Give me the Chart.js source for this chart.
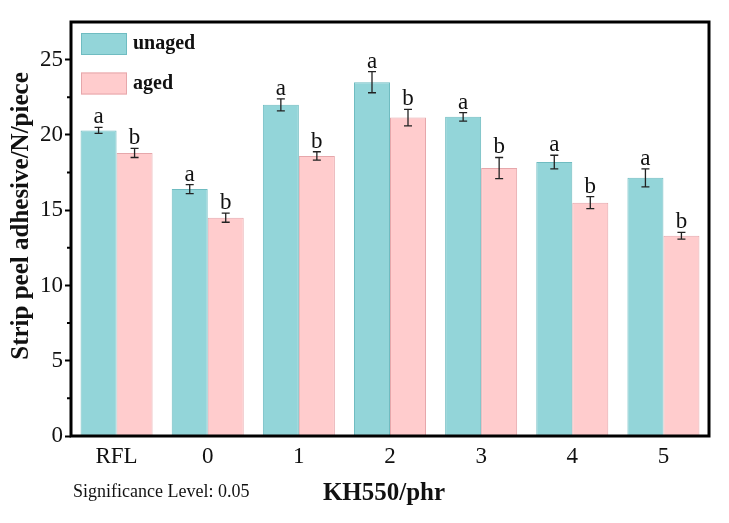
<!DOCTYPE html>
<html>
<head>
<meta charset="utf-8">
<script src="https://cdn.jsdelivr.net/npm/chart.js@4"></script>
<style>
  html, body { margin: 0; padding: 0; background: #fff; }
  #wrap { width: 729px; height: 523px; }
</style>
</head>
<body>
<div id="wrap"><canvas id="peelChart" width="729" height="523"></canvas></div>
<script>
// data
const categories = ['RFL', '0', '1', '2', '3', '4', '5'];
const unaged = [20.3, 16.4, 22.0, 23.5, 21.2, 18.2, 17.15];
const unagedErr = [0.2, 0.3, 0.4, 0.7, 0.28, 0.45, 0.6];
const aged = [18.8, 14.5, 18.6, 21.15, 17.8, 15.5, 13.3];
const agedErr = [0.3, 0.3, 0.28, 0.55, 0.7, 0.4, 0.22];
const unagedLetters = ['a', 'a', 'a', 'a', 'a', 'a', 'a'];
const agedLetters = ['b', 'b', 'b', 'b', 'b', 'b', 'b'];
const yTicks = [0, 5, 10, 15, 20, 25];
const yMinorTicks = [2.5, 7.5, 12.5, 17.5, 22.5];

const SERIF = '"Liberation Serif", "Times New Roman", serif';
const errs = [unagedErr, agedErr];
const letters = [unagedLetters, agedLetters];

const decorPlugin = {
    id: 'decor',
    afterDatasetsDraw(chart) {
        const ctx = chart.ctx;
        const y = chart.scales.y;
        ctx.save();
        // error bars + significance letters
        chart.data.datasets.forEach((ds, di) => {
            const meta = chart.getDatasetMeta(di);
            meta.data.forEach((bar, i) => {
                const v = ds.data[i], e = errs[di][i];
                const x = bar.x;
                const yt = y.getPixelForValue(v + e), yb = y.getPixelForValue(v - e);
                ctx.strokeStyle = '#222';
                ctx.lineWidth = 1.3;
                ctx.beginPath();
                ctx.moveTo(x, yt); ctx.lineTo(x, yb);
                ctx.moveTo(x - 4, yt); ctx.lineTo(x + 4, yt);
                ctx.moveTo(x - 4, yb); ctx.lineTo(x + 4, yb);
                ctx.stroke();
                ctx.fillStyle = '#111';
                ctx.font = '23px ' + SERIF;
                ctx.textAlign = 'center';
                ctx.textBaseline = 'alphabetic';
                ctx.fillText(letters[di][i], x, yt - 4);
            });
        });
        ctx.restore();
    },
    afterDraw(chart) {
        const ctx = chart.ctx;
        const a = chart.chartArea;
        const y = chart.scales.y;
        ctx.save();
        // frame
        ctx.strokeStyle = '#000';
        ctx.lineWidth = 3;
        ctx.strokeRect(a.left, a.top, a.right - a.left, a.bottom - a.top);
        // minor ticks
        ctx.lineWidth = 2;
        ctx.beginPath();
        yMinorTicks.forEach(t => {
            const py = y.getPixelForValue(t);
            ctx.moveTo(a.left - 4, py); ctx.lineTo(a.left, py);
        });
        ctx.stroke();
        // legend
        const items = chart.data.datasets;
        items.forEach((ds, i) => {
            const top = a.top + 11 + i * 39.5;
            ctx.fillStyle = ds.backgroundColor;
            ctx.fillRect(a.left + 10, top, 46, 22);
            ctx.strokeStyle = ds.borderColor;
            ctx.lineWidth = 1;
            ctx.strokeRect(a.left + 10.5, top + 0.5, 45, 21);
            ctx.fillStyle = '#111';
            ctx.font = 'bold 20px ' + SERIF;
            ctx.textAlign = 'left';
            ctx.textBaseline = 'middle';
            ctx.fillText(ds.label, a.left + 62, top + 11);
        });
        // axis titles
        ctx.fillStyle = '#111';
        ctx.font = 'bold 25px ' + SERIF;
        ctx.textAlign = 'center';
        ctx.textBaseline = 'middle';
        ctx.fillText('KH550/phr', 384, 494);
        ctx.save();
        ctx.translate(22, 216);
        ctx.rotate(-Math.PI / 2);
        ctx.fillText('Strip peel adhesive/N/piece', 0, 0);
        ctx.restore();
        // note
        ctx.font = '18px ' + SERIF;
        ctx.textAlign = 'left';
        ctx.fillText('Significance Level: 0.05', 73, 492);
        ctx.restore();
    }
};

const peelChart = new Chart(document.getElementById('peelChart'), {
    type: 'bar',
    data: {
        labels: categories,
        datasets: [
            { label: 'unaged', data: unaged, backgroundColor: '#93d5d9', borderColor: '#6fbcc1', borderWidth: 1 },
            { label: 'aged', data: aged, backgroundColor: '#ffcccd', borderColor: '#e6a7ab', borderWidth: 1 }
        ]
    },
    options: {
        responsive: false,
        animation: false,
        devicePixelRatio: 1,
        layout: { padding: { top: 22, right: 20, left: 0, bottom: 0 } },
        categoryPercentage: 0.79,
        barPercentage: 1.0,
        plugins: { legend: { display: false }, tooltip: { enabled: false } },
        scales: {
            x: {
                grid: { display: false, drawTicks: false },
                border: { display: false },
                ticks: { color: '#111', font: { family: SERIF, size: 23 }, padding: 7 },
                afterFit(scale) { scale.height = 87; }
            },
            y: {
                min: 0,
                max: 27.5,
                afterBuildTicks(scale) { scale.ticks = yTicks.map(v => ({ value: v })); },
                grid: { drawOnChartArea: false, drawTicks: true, tickLength: 6, tickWidth: 2, tickColor: '#000' },
                border: { display: false },
                ticks: { color: '#111', font: { family: SERIF, size: 23 }, padding: 2 },
                afterFit(scale) { scale.width = 71; }
            }
        }
    },
    plugins: [decorPlugin]
});
</script>
</body>
</html>
